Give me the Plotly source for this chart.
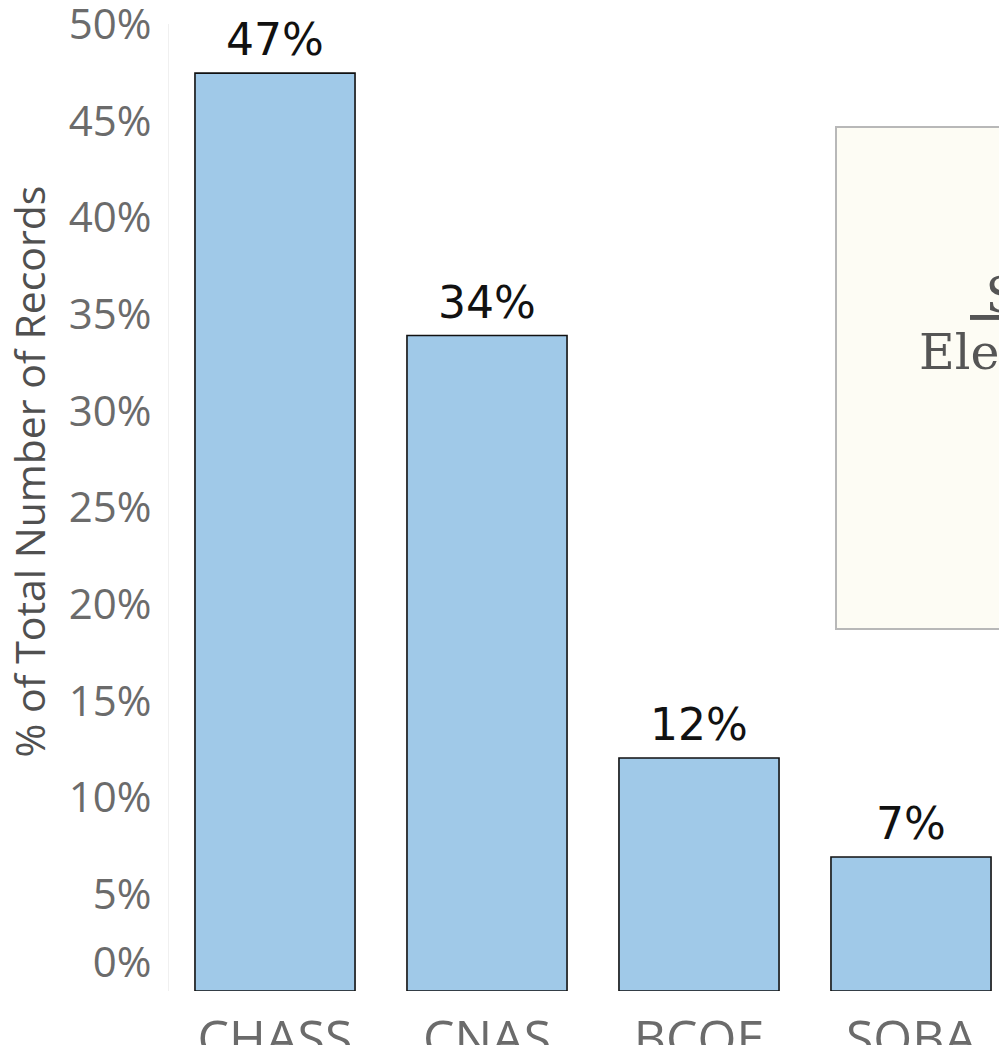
import plotly.graph_objects as go

categories = ["CHASS", "CNAS", "BCOE", "SOBA"]
pct_of_total = [0.4747, 0.339, 0.1205, 0.0693]
tick_values = [0.015, 0.05, 0.10, 0.15, 0.20, 0.25, 0.30, 0.35, 0.40, 0.45, 0.50]
tick_labels = ["0%", "5%", "10%", "15%", "20%", "25%", "30%", "35%", "40%", "45%", "50%"]
y_title = "% of Total Number of Records"
box_line1 = "<u>\u00a0Student Demographics</u>"
box_line2 = "Elections"

W, H = 999, 1045
L, T, B = 169, 24, 54
PW, PH = W - L, H - T - B


def px(xf):
    return (xf - L) / PW


def py(yf):
    return (H - B - yf) / PH


fig = go.Figure()
fig.add_trace(go.Bar(
    x=categories,
    y=pct_of_total,
    marker=dict(color="#a0c9e8", line=dict(color="#111111", width=1.6)),
    hoverinfo="x+y",
))

for c, v in zip(categories, pct_of_total):
    fig.add_annotation(x=c, y=v, xref="x", yref="y", text=f"{v:.0%}",
                       showarrow=False, yanchor="bottom", yshift=6,
                       font=dict(family="DejaVu Sans", size=44, color="#111111"))

fig.update_layout(
    width=W, height=H,
    margin=dict(l=L, r=0, t=T, b=B, autoexpand=False),
    paper_bgcolor="white", plot_bgcolor="white",
    bargap=0.245,
    showlegend=False,
    xaxis=dict(
        range=[-0.5, -0.5 + PW / 212],
        showgrid=False, zeroline=False, showline=False,
        ticks="", automargin=False,
        ticklabelstandoff=14,
        tickfont=dict(family="Open Sans", size=50, color="#6b6b6b"),
    ),
    yaxis=dict(
        range=[0, 0.5001],
        tickvals=tick_values, ticktext=tick_labels,
        showgrid=False, zeroline=False,
        showline=True, linecolor="#f0f0f0", linewidth=1,
        ticks="", automargin=False,
        ticklabelstandoff=8,
        ticklabeloverflow="allow",
        tickfont=dict(family="Open Sans", size=42, color="#6b6b6b"),
    ),
)

# y-axis title
fig.add_annotation(xref="paper", yref="paper", x=px(28.5), y=py(472),
                   xanchor="center", yanchor="middle", showarrow=False,
                   text=y_title, textangle=-90,
                   font=dict(family="Open Sans", size=41, color="#505050"))

# partially visible text box at the right edge
fig.add_shape(type="rect", xref="paper", yref="paper",
              x0=px(836), x1=1.6, y0=py(629), y1=py(127),
              fillcolor="#fdfcf4", line=dict(color="#b8b8b8", width=2), layer="below")
fig.add_annotation(xref="paper", yref="paper", x=px(968), y=py(295),
                   xanchor="left", yanchor="middle", showarrow=False, text=box_line1,
                   font=dict(family="DejaVu Serif", size=49, color="#555555"))
fig.add_annotation(xref="paper", yref="paper", x=px(917), y=py(352),
                   xanchor="left", yanchor="middle", showarrow=False, text=box_line2,
                   font=dict(family="DejaVu Serif", size=49, color="#555555"))

fig.write_html(
    "out.html",
    config={"displayModeBar": False},
    post_script="document.body.style.margin='0';document.body.style.overflow='hidden';",
)
